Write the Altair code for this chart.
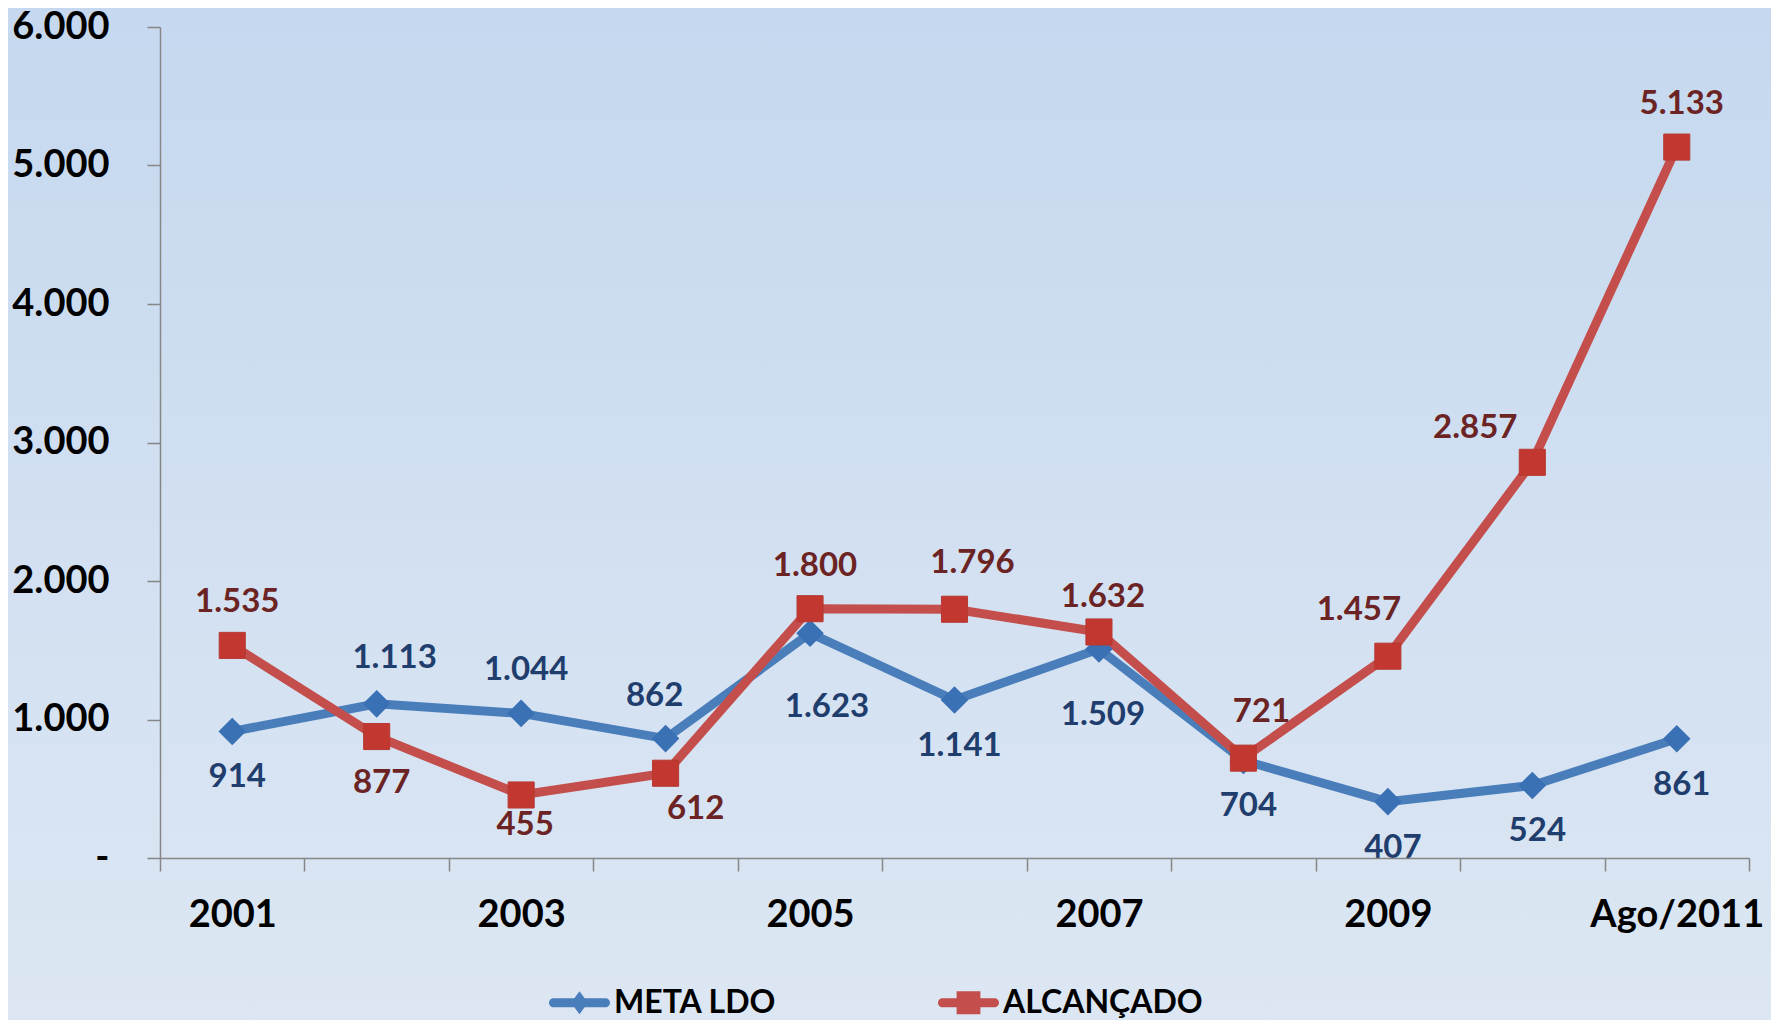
import altair as alt
import pandas as pd

categories = ["2001", "2002", "2003", "2004", "2005", "2006", "2007", "2008", "2009", "2010", "Ago/2011"]
meta_ldo = [914, 1113, 1044, 862, 1623, 1141, 1509, 704, 407, 524, 861]
alcancado = [1535, 877, 455, 612, 1800, 1796, 1632, 721, 1457, 2857, 5133]
meta_label_pos = ["below", "above right", "above", "above left", "below far right", "below", "below far",
                  "below", "below", "below", "below"]
alc_label_pos = ["above", "below", "below near", "below right", "above", "above right", "above near",
                 "above right", "above left more", "above far left", "above"]
shown_x_labels = ["2001", "2003", "2005", "2007", "2009", "Ago/2011"]
y_ticks = [0, 1000, 2000, 3000, 4000, 5000, 6000]
series = ["META LDO", "ALCANÇADO"]

BLUE_LINE = "#4a7ebb"
RED_LINE = "#c44e4b"
BLUE_MARK = "#3a70b4"
RED_MARK = "#c2372f"
BLUE_TEXT = "#1f3e6e"
RED_TEXT = "#6b2323"
FONT = "Lato"

OFFSETS = {
    "above": (5, -43),
    "above near": (4, -35),
    "below": (5, 46),
    "below near": (4, 30),
    "above right": (18, -46),
    "above left": (-11, -43),
    "above left more": (-29, -46),
    "above far left": (-57, -34),
    "below right": (30, 36),
    "below far": (4, 66),
    "below far right": (17, 74),
}

rows = []
for s, vals, poss in [(series[0], meta_ldo, meta_label_pos), (series[1], alcancado, alc_label_pos)]:
    for c, v, p in zip(categories, vals, poss):
        rows.append({"category": c, "series": s, "value": v, "pos": p,
                     "label": f"{v:,}".replace(",", ".")})
df = pd.DataFrame(rows)

TOP = 27
W, H = 1589, 858 - TOP

x_label_test = " || ".join(f"datum.value == '{c}'" for c in shown_x_labels)

x_enc = alt.X("category:N", sort=categories, title=None,
              scale=alt.Scale(type="band", domain=categories, paddingInner=0, paddingOuter=0),
              axis=alt.Axis(tickBand="extent", labelAngle=0, tickSize=13, tickColor="#868686",
                            domainColor="#868686", domainWidth=1.5, tickWidth=1.5,
                            labelFont=FONT, labelFontSize=38, labelFontWeight="bold",
                            labelColor="#000000", labelPadding=25, grid=False, zindex=1,
                            labelExpr=f"({x_label_test}) ? datum.value : ''"))
y_enc = alt.Y("value:Q", title=None,
              scale=alt.Scale(domain=[0, 6000], nice=False, zero=True),
              axis=alt.Axis(values=y_ticks, tickSize=13, tickColor="#868686",
                            domainColor="#868686", domainWidth=1.5, tickWidth=1.5,
                            labelFont=FONT, labelFontSize=38, labelFontWeight="bold",
                            labelColor="#000000", labelPadding=38, grid=False, zindex=1,
                            labelExpr="datum.value == 0 ? '-\u2002' : replace(format(datum.value, ','), ',', '.')"))

bg = alt.Chart(alt.Data(values=[{"a": 1}])).mark_rect(
    fill=alt.Gradient(gradient="linear",
                      stops=[alt.GradientStop(color="#c5d8ef", offset=0),
                             alt.GradientStop(color="#dde7f3", offset=1)],
                      x1=0, x2=0, y1=0, y2=1)
).encode(x=alt.value(-160), x2=alt.value(W + 30), y=alt.value(-TOP - 8), y2=alt.value(H + 180))

base = alt.Chart(df)

line_meta = base.transform_filter(alt.datum.series == series[0]).mark_line(
    color=BLUE_LINE, strokeWidth=9).encode(x=x_enc, y=y_enc)
line_alc = base.transform_filter(alt.datum.series == series[1]).mark_line(
    color=RED_LINE, strokeWidth=9).encode(x=x_enc, y=y_enc)
pts_meta = base.transform_filter(alt.datum.series == series[0]).mark_point(
    shape="diamond", filled=True, size=760, color=BLUE_MARK, opacity=1).encode(x=x_enc, y=y_enc)
pts_alc = base.transform_filter(alt.datum.series == series[1]).mark_point(
    shape="square", filled=True, size=680, color=RED_MARK, opacity=1,
    stroke="#b53a33", strokeWidth=1).encode(x=x_enc, y=y_enc)

text_layers = []
for pos, (dx, dy) in OFFSETS.items():
    text_layers.append(
        base.transform_filter(alt.datum.pos == pos).mark_text(
            dx=dx, dy=dy, font=FONT, fontSize=33, fontWeight="bold", baseline="middle", align="center"
        ).encode(
            x=x_enc, y=y_enc, text="label:N",
            color=alt.condition(alt.datum.series == series[0], alt.value(BLUE_TEXT), alt.value(RED_TEXT)),
        )
    )

bar = "M-0.85,-0.15L0.85,-0.15A0.15,0.15 0 0 1 0.85,0.15L-0.85,0.15A0.15,0.15 0 0 1 -0.85,-0.15Z "
path_meta = bar + "M0,-0.38L0.28,0L0,0.38L-0.28,0Z"
path_alc = bar + "M-0.39,-0.38L0.39,-0.38L0.39,0.38L-0.39,0.38Z"

legend_cfg = alt.Legend(orient="none", legendX=389, legendY=1002 - TOP - 30, direction="horizontal",
                        title=None, symbolSize=3721, symbolStrokeWidth=0, labelFont=FONT,
                        labelFontSize=32, labelFontWeight="bold", labelColor="#000000", labelOffset=4,
                        columnPadding=160, padding=0, labelLimit=0, symbolOpacity=1)

legend_layer = base.transform_filter("false").mark_point(filled=True, opacity=1).encode(
    color=alt.Color("series:N", scale=alt.Scale(domain=series, range=[BLUE_LINE, RED_LINE]), legend=legend_cfg),
    shape=alt.Shape("series:N", scale=alt.Scale(domain=series, range=[path_meta, path_alc]), legend=legend_cfg),
)

chart = alt.layer(bg, line_meta, line_alc, pts_meta, pts_alc, *text_layers, legend_layer).properties(
    width=W, height=H,
    autosize=alt.AutoSizeParams(type="none"),
    padding={"left": 152, "top": TOP - 8, "right": 22, "bottom": 1020 - 858},
    background="#dde7f3",
).configure_view(stroke=None)

chart.save("out.html", embed_options={"renderer": "svg", "actions": False})
